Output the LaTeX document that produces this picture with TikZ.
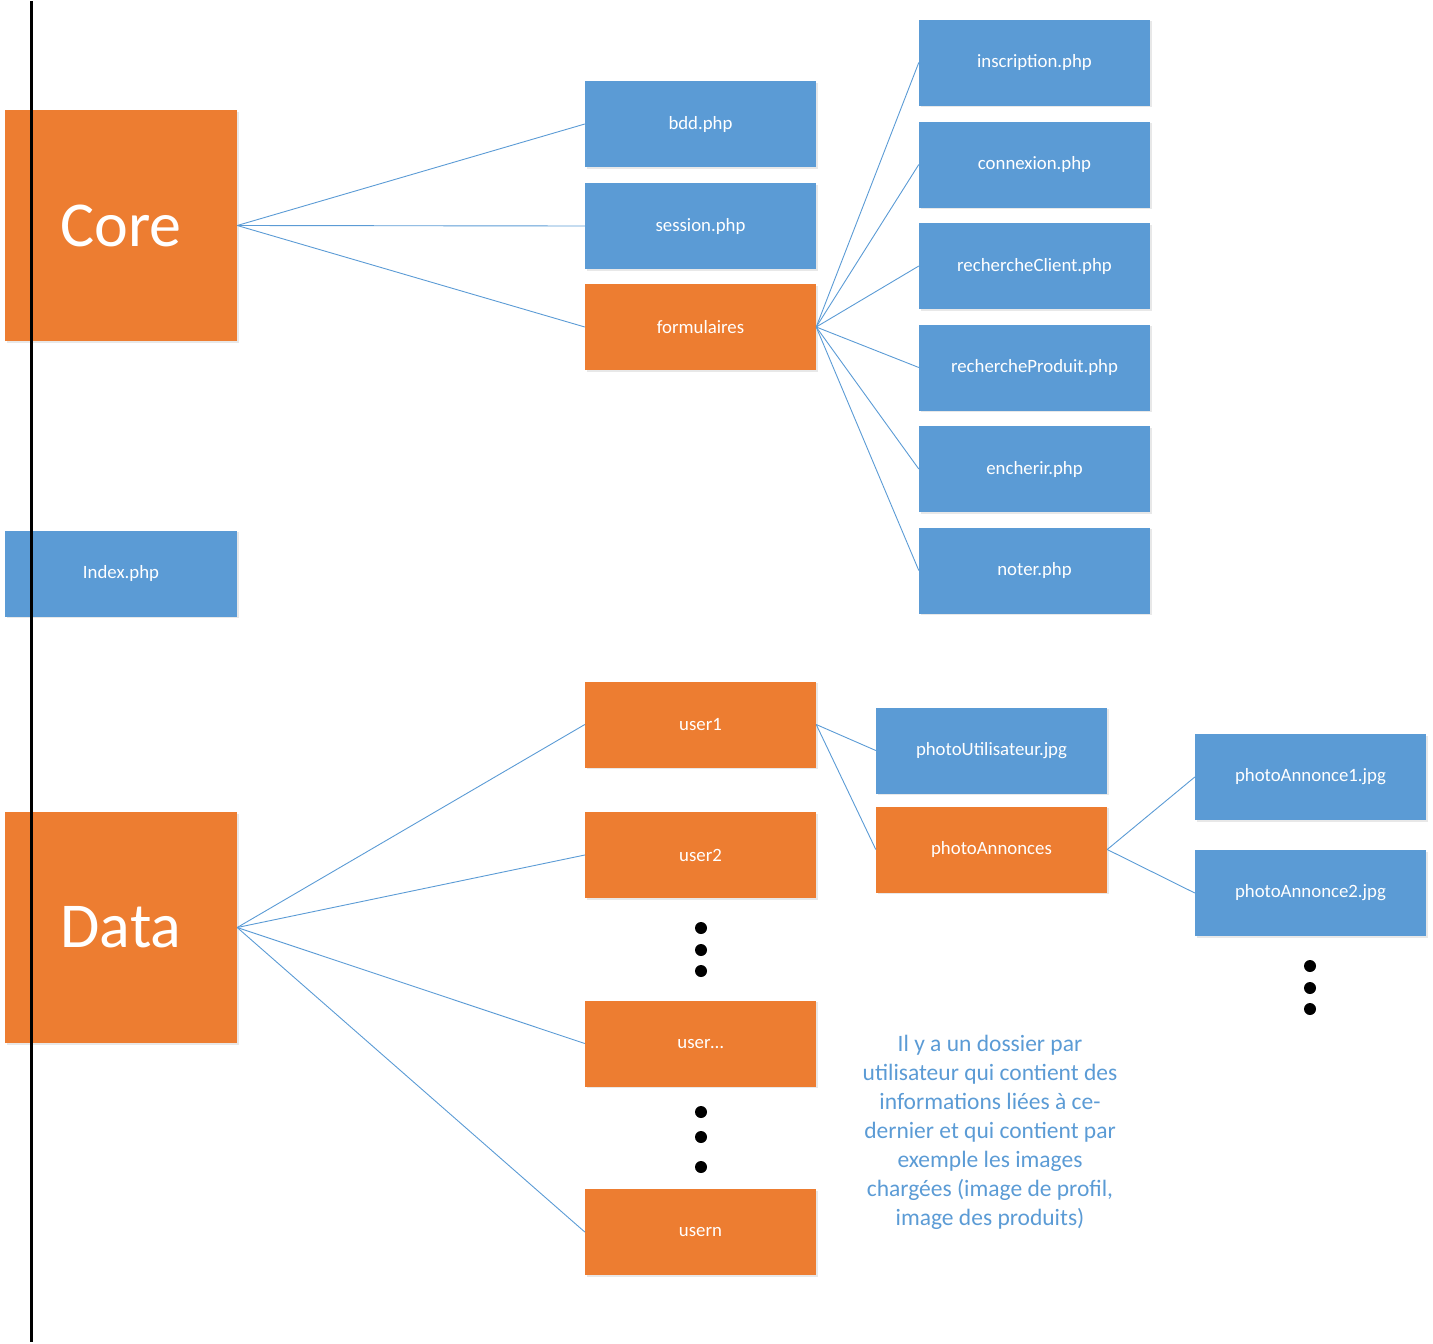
\documentclass[tikz,border=0pt]{standalone}
\usepackage{fontspec}
\setmainfont{Carlito}
\usetikzlibrary{shadows}
\definecolor{orng}{HTML}{ED7D31}
\definecolor{blu}{HTML}{5B9BD5}
\begin{document}
\begin{tikzpicture}[x=1pt,y=-1pt,
  box/.style={minimum width=231pt,minimum height=86pt,inner sep=0pt,text=white,
    font=\fontsize{18.8}{22}\selectfont,
    drop shadow={opacity=0.18,shadow xshift=1.5pt,shadow yshift=-1.5pt}},
  bluebox/.style={box,fill=blu},
  orbox/.style={box,fill=orng},
  bigbox/.style={orbox,minimum width=232pt,minimum height=231pt,font=\fontsize{64}{70}\selectfont},
  link/.style={draw=blu,line width=0.9pt},
  dot/.style={circle,fill=black,inner sep=0pt,minimum size=12pt}]
\useasboundingbox (0,0) rectangle (1433,1344);
% left column
\node[bigbox] (core) at (121,225.5) {Core};
\node[bluebox,minimum width=232pt] (index) at (121,573.5) {Index.php};
\node[bigbox] (data) at (121,927.5) {Data};
% core children
\node[bluebox] (bdd) at (700.5,124) {bdd.php};
\node[bluebox] (session) at (700.5,226) {session.php};
\node[orbox] (form) at (700.5,327) {formulaires};
% formulaires children
\node[bluebox] (insc) at (1034.5,62.5) {inscription.php};
\node[bluebox] (conn) at (1034.5,164.5) {connexion.php};
\node[bluebox] (rclient) at (1034.5,266) {rechercheClient.php};
\node[bluebox] (rprod) at (1034.5,367.5) {rechercheProduit.php};
\node[bluebox] (ench) at (1034.5,469) {encherir.php};
\node[bluebox] (noter) at (1034.5,570.5) {noter.php};
% data children
\node[orbox] (u1) at (700.5,724.5) {user1};
\node[orbox] (u2) at (700.5,855) {user2};
\node[orbox] (ux) at (700.5,1043.5) {user\dots};
\node[orbox] (un) at (700.5,1232) {usern};
\node[dot] (d1) at (701,928) {};
\node[dot] (d2) at (701,950) {};
\node[dot] (d3) at (701,971) {};
\node[dot] (d4) at (701,1112) {};
\node[dot] (d5) at (701,1137) {};
\node[dot] (d6) at (701,1167) {};
% user1 children
\node[bluebox] (putil) at (991.5,750.5) {photoUtilisateur.jpg};
\node[orbox] (pann) at (991.5,849.5) {photoAnnonces};
\node[bluebox] (pa1) at (1310.5,777) {photoAnnonce1.jpg};
\node[bluebox] (pa2) at (1310.5,893) {photoAnnonce2.jpg};
\node[dot] (d7) at (1310,966) {};
\node[dot] (d8) at (1310,988) {};
\node[dot] (d9) at (1310,1009) {};
% note
\node[text=blu,align=center,font=\fontsize{23.5}{29}\selectfont,inner sep=0pt] (note) at (990,1132)
 {Il y a un dossier par\\utilisateur qui contient des\\informations liées à ce-\\dernier et qui contient par\\exemple les images\\chargées (image de profil,\\image des produits)};
% connectors
\foreach \t in {bdd,session,form} \draw[link] (core.east) -- (\t.west);
\foreach \t in {insc,conn,rclient,rprod,ench,noter} \draw[link] (form.east) -- (\t.west);
\foreach \t in {u1,u2,ux,un} \draw[link] (data.east) -- (\t.west);
\foreach \t in {putil,pann} \draw[link] (u1.east) -- (\t.west);
\foreach \t in {pa1,pa2} \draw[link] (pann.east) -- (\t.west);
% vertical line
\coordinate (vtop) at (31,1);
\coordinate (vbot) at (31,1342);
\draw[line width=3pt,black] (vtop) -- (vbot);
\end{tikzpicture}
\end{document}
